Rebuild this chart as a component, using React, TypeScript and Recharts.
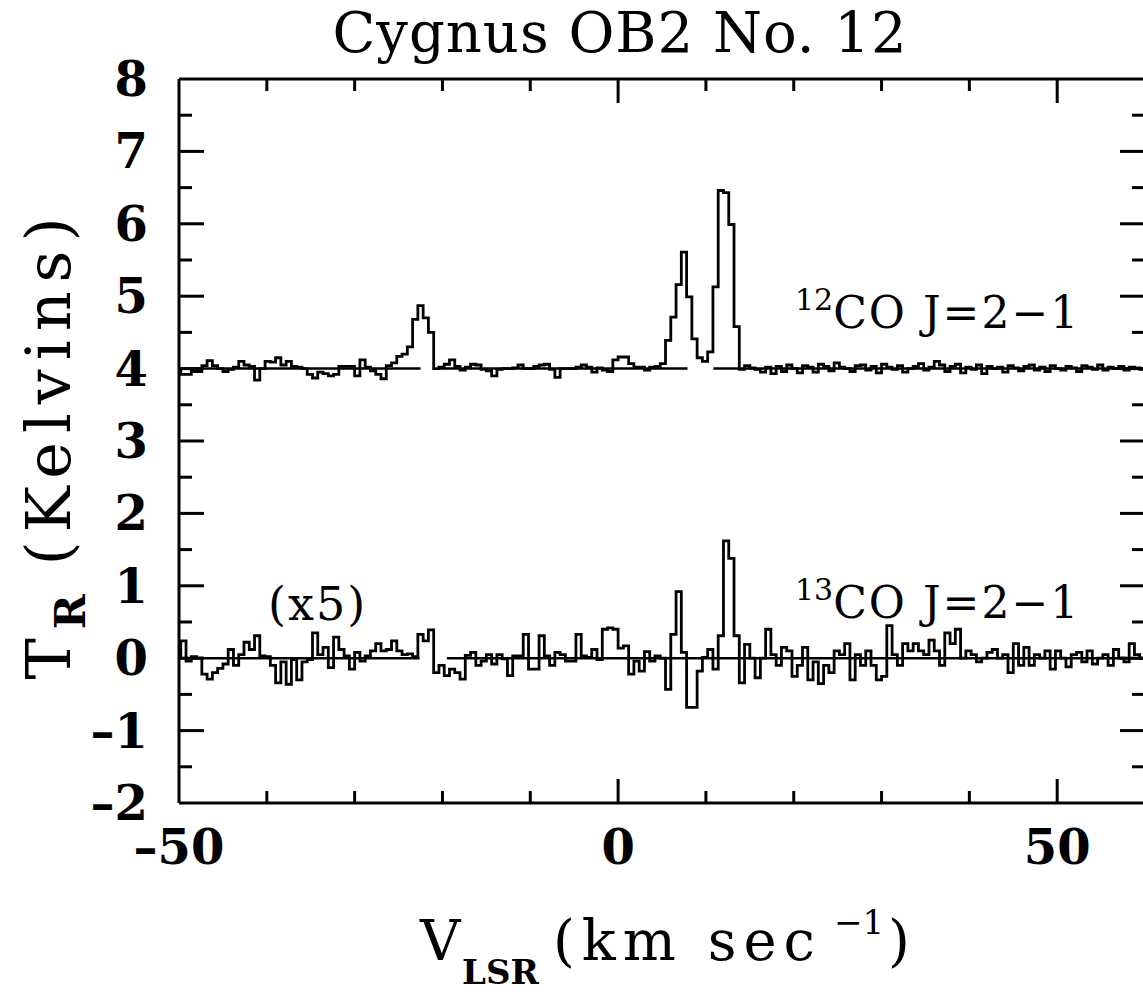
import React from 'react';
import { LineChart, Line, XAxis, YAxis } from 'recharts';

// Spectrometer channel grid (km/s)
const V0 = -50.4;
const DV = 0.6;

// 12CO J=2-1 antenna temperature per channel (K, offset +4)
const CO12: number[] = [
  4.00, 3.92, 3.92, 3.96, 3.96, 4.04, 4.11, 4.04, 4.00, 3.96,
  3.99, 4.02, 4.10, 4.05, 4.03, 3.84, 4.00, 4.10, 4.09, 4.15,
  4.05, 4.10, 4.03, 4.02, 4.00, 3.92, 3.87, 3.95, 3.93, 3.90,
  3.92, 4.03, 4.03, 4.03, 3.90, 4.12, 4.02, 3.97, 3.92, 3.86,
  4.04, 4.08, 4.17, 4.20, 4.30, 4.68, 4.87, 4.70, 4.50, 4.00,
  4.02, 4.06, 4.12, 4.03, 3.98, 4.02, 4.06, 4.05, 3.99, 3.97,
  3.90, 3.99, 4.00, 4.00, 4.01, 4.05, 4.00, 4.00, 4.03, 4.05,
  4.06, 3.99, 3.88, 4.00, 4.00, 4.00, 4.02, 4.05, 4.02, 3.95,
  4.01, 3.98, 3.96, 4.12, 4.16, 4.16, 4.07, 4.02, 4.02, 3.98,
  4.02, 4.03, 4.07, 4.39, 4.71, 5.16, 5.61, 4.99, 4.41, 4.15,
  4.10, 4.23, 5.13, 6.46, 6.43, 5.99, 4.58, 3.99, 4.04, 4.01,
  3.99, 3.95, 4.02, 3.93, 4.03, 3.96, 4.05, 4.00, 3.94, 4.04,
  4.02, 3.95, 4.06, 4.03, 3.97, 4.08, 4.02, 4.00, 3.96, 4.04,
  4.05, 3.98, 4.03, 3.94, 4.06, 4.02, 3.99, 4.04, 3.95, 4.00,
  4.03, 4.07, 3.98, 4.02, 4.10, 4.05, 3.96, 4.03, 4.06, 3.94,
  4.02, 3.99, 4.05, 3.93, 4.03, 4.00, 4.02, 3.95, 4.04, 4.01,
  3.97, 4.03, 4.05, 3.98, 4.02, 3.96, 4.04, 4.00, 3.98, 4.03,
  4.01, 3.96, 4.04, 4.02, 3.99, 4.05, 3.98, 4.02, 4.00, 4.03,
  3.98, 4.02, 4.01, 3.99, 4.02,
];

// 13CO J=2-1 (x5) per channel (K)
const CO13: number[] = [
  0.00, 0.24, -0.04, 0.02, 0.00, -0.22, -0.29, -0.20, -0.14, -0.08,
  0.12, -0.10, 0.05, 0.22, 0.12, 0.31, 0.03, 0.02, -0.10, -0.34,
  -0.05, -0.36, -0.02, -0.30, -0.05, -0.02, 0.35, 0.05, 0.15, -0.13,
  0.29, 0.12, 0.03, -0.15, 0.08, -0.04, 0.03, 0.10, 0.20, 0.10,
  0.12, 0.24, 0.10, 0.05, 0.06, 0.02, 0.33, 0.24, 0.39, -0.20,
  -0.10, -0.24, -0.15, -0.20, -0.29, 0.04, 0.08, -0.10, -0.04, 0.05,
  -0.08, 0.05, -0.01, -0.24, 0.03, 0.03, 0.33, -0.15, -0.15, 0.31,
  0.03, -0.10, 0.08, 0.05, -0.04, -0.04, 0.33, 0.03, 0.01, 0.12,
  -0.02, 0.40, 0.42, 0.40, 0.14, 0.17, -0.22, -0.04, -0.18, 0.09,
  -0.04, 0.03, 0.00, -0.43, 0.33, 0.92, 0.08, -0.68, -0.68, -0.18,
  0.01, 0.12, -0.15, 0.31, 1.62, 1.38, 0.31, -0.34, 0.19, 0.00,
  -0.27, 0.00, 0.40, 0.05, -0.10, 0.15, 0.10, -0.25, -0.10, 0.15,
  -0.30, -0.05, -0.35, -0.10, -0.20, 0.10, 0.05, 0.20, -0.30, 0.05,
  -0.10, 0.10, -0.10, -0.30, -0.25, 0.45, 0.05, -0.10, 0.20, 0.10,
  0.20, 0.10, 0.05, 0.25, 0.10, -0.10, 0.35, 0.20, 0.40, 0.00,
  0.10, 0.05, -0.05, 0.00, 0.08, 0.12, 0.00, 0.05, -0.20, 0.20,
  -0.10, 0.15, -0.10, 0.05, 0.00, 0.10, -0.15, 0.10, 0.00, -0.12,
  0.05, 0.08, -0.05, 0.10, -0.08, 0.00, 0.05, -0.10, 0.12, 0.00,
  -0.05, 0.20, 0.05, 0.00, 0.05,
];

// Fitted-baseline windows (km/s)
const BASE12_SEGMENTS: [number, number][] = [[-50, -22.5], [-20.5, 7.9], [10.85, 60]];
const BASE13_SEGMENTS: [number, number][] = [[-50, -22.6], [-19.5, 60]];
const BASE12_LEVEL = 4;
const BASE13_LEVEL = 0;

const X_DOMAIN: [number, number] = [-50, 60];
const Y_DOMAIN: [number, number] = [-2, 8];
const X_LABEL_TICKS = [-50, 0, 50];
const X_MAJOR_TICKS = [0, 50];
const X_MINOR_TICKS = [-40, -30, -20, -10, 10, 20, 30, 40];
const Y_LABEL_TICKS = [-2, -1, 0, 1, 2, 3, 4, 5, 6, 7, 8];
const Y_MAJOR_TICKS = [-1, 0, 1, 2, 3, 4, 5, 6, 7];
const Y_MINOR_TICKS = [-1.5, -0.5, 0.5, 1.5, 2.5, 3.5, 4.5, 5.5, 6.5, 7.5];

const spectrum = CO12.map((t, j) => ({ v: V0 + DV * j, a: t, b: CO13[j] }));
spectrum.push({ v: V0 + DV * CO12.length, a: CO12[CO12.length - 1], b: CO13[CO13.length - 1] });

const segData = (segs: [number, number][], level: number) => {
  const out: { v: number; y: number | null }[] = [];
  segs.forEach(([a, b], i) => {
    if (i > 0) out.push({ v: (segs[i - 1][1] + a) / 2, y: null });
    out.push({ v: a, y: level });
    out.push({ v: b, y: level });
  });
  return out;
};
const base12 = segData(BASE12_SEGMENTS, BASE12_LEVEL);
const base13 = segData(BASE13_SEGMENTS, BASE13_LEVEL);

const FONT = '"DejaVu Serif", serif';
const AX = { stroke: '#000', strokeWidth: 3 };
const TL = { stroke: '#000', strokeWidth: 3 };
const EPS = 0.01;
const fmt = (v: number) => (v < 0 ? '\u2013' + Math.abs(v) : String(v));
const NoLabel = () => <g />;

export default function App() {
  return (
    <div style={{ position: 'absolute', left: 0, top: 0, width: 1143, height: 1008, overflow: 'hidden', background: '#fff' }}>
      <LineChart width={1160} height={1008} data={spectrum} margin={{ top: 79, right: 15, bottom: 205, left: 179 }}>
        {/* inner tick marks */}
        <XAxis xAxisId="bmin" type="number" dataKey="v" domain={X_DOMAIN} allowDataOverflow ticks={X_MINOR_TICKS} interval={0} mirror height={EPS} tickSize={12} tick={NoLabel} tickLine={TL} axisLine={false} orientation="bottom" />
        <XAxis xAxisId="bmaj" type="number" dataKey="v" domain={X_DOMAIN} allowDataOverflow ticks={X_MAJOR_TICKS} interval={0} mirror height={EPS} tickSize={24} tick={NoLabel} tickLine={TL} axisLine={false} orientation="bottom" />
        <XAxis xAxisId="tmin" type="number" dataKey="v" domain={X_DOMAIN} allowDataOverflow ticks={X_MINOR_TICKS} interval={0} mirror height={EPS} tickSize={12} tick={NoLabel} tickLine={TL} axisLine={AX} orientation="top" />
        <XAxis xAxisId="tmaj" type="number" dataKey="v" domain={X_DOMAIN} allowDataOverflow ticks={X_MAJOR_TICKS} interval={0} mirror height={EPS} tickSize={24} tick={NoLabel} tickLine={TL} axisLine={false} orientation="top" />
        <YAxis yAxisId="lmaj" type="number" domain={Y_DOMAIN} allowDataOverflow ticks={Y_MAJOR_TICKS} interval={0} mirror width={EPS} tickSize={25} tick={NoLabel} tickLine={TL} axisLine={false} orientation="left" />
        <YAxis yAxisId="lmin" type="number" domain={Y_DOMAIN} allowDataOverflow ticks={Y_MINOR_TICKS} interval={0} mirror width={EPS} tickSize={13} tick={NoLabel} tickLine={TL} axisLine={false} orientation="left" />
        <YAxis yAxisId="rmaj" type="number" domain={Y_DOMAIN} allowDataOverflow ticks={Y_MAJOR_TICKS} interval={0} mirror width={EPS} tickSize={25} tick={NoLabel} tickLine={TL} axisLine={AX} orientation="right" />
        <YAxis yAxisId="rmin" type="number" domain={Y_DOMAIN} allowDataOverflow ticks={Y_MINOR_TICKS} interval={0} mirror width={EPS} tickSize={13} tick={NoLabel} tickLine={TL} axisLine={false} orientation="right" />
        {/* labelled axes */}
        <XAxis xAxisId="x" type="number" dataKey="v" domain={X_DOMAIN} allowDataOverflow ticks={X_LABEL_TICKS} interval={0} height={EPS} tickSize={0} tickMargin={27} tickLine={false} axisLine={AX}
          tick={{ fill: '#000', fontSize: 48, fontFamily: FONT, fontWeight: 700 }} tickFormatter={fmt} />
        <YAxis yAxisId="y" type="number" domain={Y_DOMAIN} allowDataOverflow ticks={Y_LABEL_TICKS} interval={0} width={EPS} tickSize={0} tickMargin={31} tickLine={false} axisLine={AX}
          tick={{ fill: '#000', fontSize: 48, fontFamily: FONT, fontWeight: 700 }} tickFormatter={fmt} />

        <Line xAxisId="x" yAxisId="y" data={base12} dataKey="y" type="linear" stroke="#000" strokeWidth={2.5} dot={false} isAnimationActive={false} connectNulls={false} />
        <Line xAxisId="x" yAxisId="y" data={base13} dataKey="y" type="linear" stroke="#000" strokeWidth={2.5} dot={false} isAnimationActive={false} connectNulls={false} />
        <Line xAxisId="x" yAxisId="y" dataKey="a" type="stepAfter" stroke="#000" strokeWidth={2.8} dot={false} isAnimationActive={false} />
        <Line xAxisId="x" yAxisId="y" dataKey="b" type="stepAfter" stroke="#000" strokeWidth={2.8} dot={false} isAnimationActive={false} />

        <text x={620} y={52} textAnchor="middle" fontFamily={FONT} fontSize={56} letterSpacing={1} fill="#000">Cygnus OB2 No. 12</text>
        <text x={795} y={328} fontFamily={FONT} fontSize={44} fill="#000">
          <tspan fontSize={30} dy={-18}>12</tspan><tspan dy={18} letterSpacing={2}>CO J=2{'\u2212'}1</tspan>
        </text>
        <text x={795} y={618} fontFamily={FONT} fontSize={44} fill="#000">
          <tspan fontSize={30} dy={-18}>13</tspan><tspan dy={18} letterSpacing={2}>CO J=2{'\u2212'}1</tspan>
        </text>
        <text x={268} y={620} fontFamily={FONT} fontSize={46} letterSpacing={2} fill="#000">(x5)</text>
        <text transform="translate(70,444) rotate(-90)" textAnchor="middle" fontFamily={FONT} fontSize={62} letterSpacing={9} fill="#000">
          T<tspan fontSize={42} fontWeight={700} letterSpacing={0} dy={15}>R</tspan><tspan dy={-15}> (Kelvins)</tspan>
        </text>
        <text y={960} fontFamily={FONT} fontSize={56} fill="#000">
          <tspan x={420}>V</tspan>
          <tspan x={462} fontSize={34} fontWeight={700} dy={24}>LSR</tspan>
          <tspan x={553} dy={-24} letterSpacing={7}>(km sec</tspan>
          <tspan x={834} fontSize={34} dy={-26}>{'\u2212'}1</tspan>
          <tspan x={888} dy={26}>)</tspan>
        </text>
      </LineChart>
    </div>
  );
}
